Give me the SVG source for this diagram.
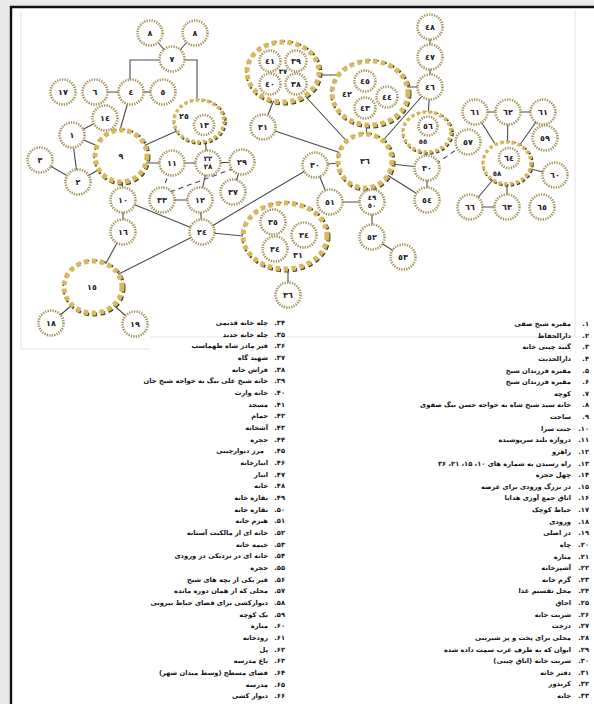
<svg xmlns="http://www.w3.org/2000/svg" width="594" height="704" viewBox="0 0 594 704">
<style>
.ln{stroke:#4a4a4a;stroke-width:1.1;fill:none}
.dash{stroke-dasharray:5 4}
.sm{fill:#fff;stroke:#a2945a;stroke-width:2.6;stroke-dasharray:1.3 1.2}
.bk{fill:none;stroke:#4d3f18;stroke-width:5;stroke-dasharray:4.5 3.5}
.bg{fill:#fff;stroke:#d6b95e;stroke-width:5;stroke-dasharray:4.5 3.5}
.mk{fill:none;stroke:#4d3f18;stroke-width:3.6;stroke-dasharray:3.2 2.6}
.mg{fill:#fff;stroke:#d2b75c;stroke-width:3.6;stroke-dasharray:3.2 2.6}
.lb{font-family:"DejaVu Sans",sans-serif;font-size:8px;font-weight:bold;fill:#222;text-anchor:middle;dominant-baseline:central}
.lb2{font-family:"DejaVu Sans",sans-serif;font-size:7px;font-weight:bold;fill:#222;text-anchor:middle;dominant-baseline:central}
.li{font-family:"DejaVu Sans",sans-serif;font-size:6.7px;font-weight:bold;fill:#111;text-anchor:end}
.faint{stroke:#e4e4e4;stroke-width:1;fill:none}
</style>
<rect x="0" y="0" width="594" height="704" fill="#e9e9e9"/>
<rect x="11" y="7" width="583" height="697" fill="#fff"/>
<path d="M11 704 V7 H594" stroke="#111" stroke-width="2.4" fill="none"/>
<path class="faint" d="M21 10 V349 H150 M150 337 H592 M575 10 V337"/>

<g id="connectors">
<polyline class="ln" points="130,82 130,60 197,60 197,100"/>
<line class="ln" x1="150" y1="33" x2="172" y2="59"/>
<line class="ln" x1="195" y1="33" x2="172" y2="59"/>
<line class="ln" x1="95" y1="92" x2="131" y2="92"/>
<line class="ln" x1="131" y1="92" x2="163" y2="92"/>
<line class="ln" x1="131" y1="92" x2="117" y2="140"/>
<line class="ln" x1="121" y1="156" x2="199" y2="121"/>
<line class="ln" x1="105" y1="118" x2="72" y2="135"/>
<line class="ln" x1="72" y1="135" x2="121" y2="156"/>
<line class="ln" x1="72" y1="135" x2="78" y2="182"/>
<line class="ln" x1="40" y1="160" x2="78" y2="182"/>
<line class="ln" x1="78" y1="182" x2="121" y2="156"/>
<line class="ln" x1="121" y1="163" x2="208" y2="163"/>
<line class="ln" x1="208" y1="163" x2="242" y2="162"/>
<line class="ln" x1="204" y1="121" x2="207" y2="163"/>
<line class="ln" x1="242" y1="162" x2="233" y2="192"/>
<line class="ln" x1="208" y1="163" x2="200" y2="200"/>
<line class="ln" x1="162" y1="200" x2="200" y2="200"/>
<line class="ln" x1="200" y1="200" x2="202" y2="232"/>
<line class="ln" x1="121" y1="156" x2="123" y2="200"/>
<line class="ln" x1="123" y1="200" x2="123" y2="232"/>
<line class="ln" x1="123" y1="200" x2="202" y2="232"/>
<line class="ln" x1="123" y1="232" x2="93" y2="287"/>
<line class="ln" x1="202" y1="232" x2="93" y2="287"/>
<line class="ln" x1="202" y1="232" x2="315" y2="165"/>
<line class="ln" x1="202" y1="232" x2="285" y2="240"/>
<line class="ln" x1="288" y1="260" x2="288" y2="295"/>
<line class="ln" x1="93" y1="287" x2="51" y2="323"/>
<line class="ln" x1="93" y1="287" x2="135" y2="324"/>
<line class="ln" x1="315" y1="165" x2="365" y2="161"/>
<line class="ln" x1="315" y1="165" x2="330" y2="202"/>
<line class="ln" x1="330" y1="202" x2="372" y2="202"/>
<line class="ln" x1="372" y1="202" x2="372" y2="237"/>
<line class="ln" x1="372" y1="237" x2="403" y2="257"/>
<line class="ln" x1="283" y1="72" x2="365" y2="161"/>
<line class="ln" x1="263" y1="127" x2="365" y2="161"/>
<line class="ln" x1="278" y1="90" x2="263" y2="127"/>
<line class="ln" x1="283" y1="75" x2="370" y2="75"/>
<line class="ln" x1="367" y1="100" x2="366" y2="161"/>
<line class="ln" x1="390" y1="87" x2="430" y2="87"/>
<line class="ln" x1="430" y1="87" x2="365" y2="161"/>
<line class="ln" x1="430" y1="87" x2="430" y2="27"/>
<line class="ln" x1="430" y1="87" x2="427" y2="132"/>
<line class="ln" x1="424" y1="132" x2="427" y2="168"/>
<line class="ln" x1="365" y1="161" x2="427" y2="168"/>
<line class="ln" x1="365" y1="161" x2="427" y2="200"/>
<line class="ln" x1="427" y1="168" x2="427" y2="200"/>
<line class="ln" x1="475" y1="112" x2="543" y2="112"/>
<line class="ln" x1="475" y1="112" x2="507" y2="163"/>
<line class="ln" x1="508" y1="112" x2="507" y2="163"/>
<line class="ln" x1="543" y1="112" x2="507" y2="163"/>
<line class="ln" x1="507" y1="163" x2="555" y2="175"/>
<line class="ln" x1="507" y1="163" x2="470" y2="207"/>
<line class="ln" x1="470" y1="207" x2="507" y2="207"/>
<line class="ln" x1="507" y1="163" x2="507" y2="207"/>
<line class="ln dash" x1="170" y1="170" x2="162" y2="192"/>
<line class="ln dash" x1="170" y1="192" x2="235" y2="168"/>
<line class="ln dash" x1="436" y1="164" x2="460" y2="147"/>
</g>

<g id="n9"><circle class="bk" cx="122" cy="157" r="26"/><circle class="bg" cx="121" cy="156" r="26"/><text class="lb" x="121" y="156">٩</text></g>
<g id="n36"><circle class="bk" cx="366" cy="162" r="27"/><circle class="bg" cx="365" cy="161" r="27"/><text class="lb" x="365" y="161">٣٦</text></g>
<g id="n15"><ellipse class="bk" cx="94" cy="288" rx="29" ry="26"/><ellipse class="bg" cx="93" cy="287" rx="29" ry="26"/><text class="lb" x="92" y="287">١٥</text></g>
<g id="g37"><ellipse class="bk" cx="284" cy="73" rx="36" ry="30"/><ellipse class="bg" cx="283" cy="72" rx="36" ry="30"/>
<circle class="sm" cx="270" cy="61" r="10.5"/><text class="lb" x="270" y="61">٤١</text>
<circle class="sm" cx="296" cy="61" r="10.5"/><text class="lb" x="296" y="61">٣٩</text>
<circle class="sm" cx="270" cy="84" r="10.5"/><text class="lb" x="270" y="84">٤٠</text>
<circle class="sm" cx="296" cy="84" r="10.5"/><text class="lb" x="296" y="84">٣٨</text>
<text class="lb2" x="283" y="72">٣٧</text></g>
<g id="g42"><ellipse class="bk" cx="371" cy="94" rx="38" ry="32"/><ellipse class="bg" cx="370" cy="93" rx="38" ry="32"/>
<circle class="sm" cx="365" cy="81" r="10.5"/><text class="lb" x="365" y="81">٤٥</text>
<circle class="sm" cx="387" cy="97" r="10.5"/><text class="lb" x="387" y="97">٤٤</text>
<circle class="sm" cx="365" cy="108" r="10.5"/><text class="lb" x="365" y="108">٤٣</text>
<text class="lb" x="347" y="94">٤٢</text></g>
<g id="g31"><ellipse class="bk" cx="286" cy="237" rx="42" ry="33"/><ellipse class="bg" cx="285" cy="236" rx="42" ry="33"/>
<circle class="sm" cx="273" cy="222" r="12.5"/><text class="lb" x="273" y="222">٣٥</text>
<circle class="sm" cx="304" cy="235" r="12.5"/><text class="lb" x="304" y="235">٣٤</text>
<circle class="sm" cx="275" cy="249" r="12.5"/><text class="lb" x="275" y="249">٣٤</text>
<text class="lb" x="298" y="255">٣١</text></g>
<g id="g25"><ellipse class="mk" cx="200" cy="122" rx="25" ry="21"/><ellipse class="mg" cx="199" cy="121" rx="25" ry="21"/>
<circle class="sm" cx="204" cy="125" r="10"/><text class="lb" x="204" y="125">١٣</text>
<text class="lb" x="184" y="116">٢٥</text></g>
<g id="g55"><ellipse class="mk" cx="428" cy="133" rx="24" ry="20"/><ellipse class="mg" cx="427" cy="132" rx="24" ry="20"/>
<circle class="sm" cx="428" cy="126" r="9.5"/><text class="lb" x="428" y="126">٥٦</text>
<text class="lb2" x="423" y="142">٥٥</text></g>
<g id="g58"><ellipse class="mk" cx="508" cy="164" rx="24" ry="21"/><ellipse class="mg" cx="507" cy="163" rx="24" ry="21"/>
<circle class="sm" cx="509" cy="158" r="10"/><text class="lb" x="509" y="158">٦٤</text>
<text class="lb2" x="497" y="174">٥٨</text></g>

<g id="n8a"><circle class="sm" cx="150" cy="33" r="12.5"/><text class="lb" x="150" y="33">٨</text></g>
<g id="n8b"><circle class="sm" cx="195" cy="33" r="12.5"/><text class="lb" x="195" y="33">٨</text></g>
<g id="n7"><circle class="sm" cx="172" cy="59" r="12.5"/><text class="lb" x="172" y="59">٧</text></g>
<g id="n17"><circle class="sm" cx="63" cy="92" r="12.5"/><text class="lb" x="63" y="92">١٧</text></g>
<g id="n6"><circle class="sm" cx="95" cy="92" r="12.5"/><text class="lb" x="95" y="92">٦</text></g>
<g id="n4"><circle class="sm" cx="131" cy="92" r="12.5"/><text class="lb" x="131" y="92">٤</text></g>
<g id="n5"><circle class="sm" cx="163" cy="92" r="12.5"/><text class="lb" x="163" y="92">٥</text></g>
<g id="n14"><circle class="sm" cx="105" cy="118" r="12.5"/><text class="lb" x="105" y="118">١٤</text></g>
<g id="n1"><circle class="sm" cx="72" cy="135" r="12.5"/><text class="lb" x="72" y="135">١</text></g>
<g id="n3"><circle class="sm" cx="40" cy="160" r="12.5"/><text class="lb" x="40" y="160">٣</text></g>
<g id="n2"><circle class="sm" cx="78" cy="182" r="12.5"/><text class="lb" x="78" y="182">٢</text></g>
<g id="n11"><circle class="sm" cx="172" cy="163" r="12.5"/><text class="lb" x="172" y="163">١١</text></g>
<g id="n22"><circle class="sm" cx="208" cy="163" r="12.5"/><text class="lb2" x="208" y="159">٢٢</text><text class="lb2" x="208" y="167">٢٨</text></g>
<g id="n29"><circle class="sm" cx="242" cy="162" r="12.5"/><text class="lb" x="242" y="162">٢٩</text></g>
<g id="n37"><circle class="sm" cx="233" cy="192" r="12.5"/><text class="lb" x="233" y="192">٣٧</text></g>
<g id="n12"><circle class="sm" cx="200" cy="200" r="12.5"/><text class="lb" x="200" y="200">١٢</text></g>
<g id="n33"><circle class="sm" cx="162" cy="200" r="12.5"/><text class="lb" x="162" y="200">٣٣</text></g>
<g id="n10"><circle class="sm" cx="123" cy="200" r="12.5"/><text class="lb" x="123" y="200">١٠</text></g>
<g id="n16"><circle class="sm" cx="123" cy="232" r="12.5"/><text class="lb" x="123" y="232">١٦</text></g>
<g id="n24"><circle class="sm" cx="202" cy="232" r="12.5"/><text class="lb" x="202" y="232">٢٤</text></g>
<g id="n18"><circle class="sm" cx="51" cy="323" r="12.5"/><text class="lb" x="51" y="323">١٨</text></g>
<g id="n19"><circle class="sm" cx="135" cy="324" r="12.5"/><text class="lb" x="135" y="324">١٩</text></g>
<g id="n31"><circle class="sm" cx="263" cy="127" r="12.5"/><text class="lb" x="263" y="127">٣١</text></g>
<g id="n30a"><circle class="sm" cx="315" cy="165" r="12.5"/><text class="lb" x="315" y="165">٣٠</text></g>
<g id="n51"><circle class="sm" cx="330" cy="202" r="12.5"/><text class="lb" x="330" y="202">٥١</text></g>
<g id="n49"><circle class="sm" cx="372" cy="202" r="12.5"/><text class="lb2" x="372" y="198">٤٩</text><text class="lb2" x="372" y="206">٥٠</text></g>
<g id="n52"><circle class="sm" cx="372" cy="237" r="12.5"/><text class="lb" x="372" y="237">٥٢</text></g>
<g id="n53"><circle class="sm" cx="403" cy="257" r="12.5"/><text class="lb" x="403" y="257">٥٣</text></g>
<g id="n36s"><circle class="sm" cx="288" cy="295" r="12.5"/><text class="lb" x="288" y="295">٣٦</text></g>
<g id="n30b"><circle class="sm" cx="427" cy="168" r="12.5"/><text class="lb" x="427" y="168">٣٠</text></g>
<g id="n54"><circle class="sm" cx="427" cy="200" r="12.5"/><text class="lb" x="427" y="200">٥٤</text></g>
<g id="n57"><circle class="sm" cx="468" cy="142" r="12.5"/><text class="lb" x="468" y="142">٥٧</text></g>
<g id="n46"><circle class="sm" cx="430" cy="87" r="12.5"/><text class="lb" x="430" y="87">٤٦</text></g>
<g id="n47"><circle class="sm" cx="430" cy="57" r="12.5"/><text class="lb" x="430" y="57">٤٧</text></g>
<g id="n48"><circle class="sm" cx="430" cy="27" r="12.5"/><text class="lb" x="430" y="27">٤٨</text></g>
<g id="n61a"><circle class="sm" cx="475" cy="112" r="12.5"/><text class="lb" x="475" y="112">٦١</text></g>
<g id="n62"><circle class="sm" cx="508" cy="112" r="12.5"/><text class="lb" x="508" y="112">٦٢</text></g>
<g id="n61b"><circle class="sm" cx="543" cy="112" r="12.5"/><text class="lb" x="543" y="112">٦١</text></g>
<g id="n59"><circle class="sm" cx="545" cy="138" r="12.5"/><text class="lb" x="545" y="138">٥٩</text></g>
<g id="n60"><circle class="sm" cx="555" cy="175" r="12.5"/><text class="lb" x="555" y="175">٦٠</text></g>
<g id="n66"><circle class="sm" cx="470" cy="207" r="12.5"/><text class="lb" x="470" y="207">٦٦</text></g>
<g id="n63"><circle class="sm" cx="507" cy="207" r="12.5"/><text class="lb" x="507" y="207">٦٣</text></g>
<g id="n65"><circle class="sm" cx="542" cy="207" r="12.5"/><text class="lb" x="542" y="207">٦٥</text></g>

<g id="legend-right">
<text class="li" x="589" y="326">&#x202B;۱.&#x202C;</text><text class="li" x="571" y="326">&#x202B;مقبره شیخ صفی&#x202C;</text>
<text class="li" x="589" y="337.6">&#x202B;۲.&#x202C;</text><text class="li" x="571" y="337.6">&#x202B;دارالحفاظ&#x202C;</text>
<text class="li" x="589" y="349.3">&#x202B;۳.&#x202C;</text><text class="li" x="571" y="349.3">&#x202B;گنبد چینی خانه&#x202C;</text>
<text class="li" x="589" y="360.9">&#x202B;۴.&#x202C;</text><text class="li" x="571" y="360.9">&#x202B;دارالحدیث&#x202C;</text>
<text class="li" x="589" y="372.5">&#x202B;۵.&#x202C;</text><text class="li" x="571" y="372.5">&#x202B;مقبره فرزندان شیخ&#x202C;</text>
<text class="li" x="589" y="384.1">&#x202B;۶.&#x202C;</text><text class="li" x="571" y="384.1">&#x202B;مقبره فرزندان شیخ&#x202C;</text>
<text class="li" x="589" y="395.8">&#x202B;۷.&#x202C;</text><text class="li" x="571" y="395.8">&#x202B;کوچه&#x202C;</text>
<text class="li" x="589" y="407.4">&#x202B;۸.&#x202C;</text><text class="li" x="571" y="407.4">&#x202B;خانه سید شیخ شاه به خواجه حسن بیگ صفوی&#x202C;</text>
<text class="li" x="589" y="419">&#x202B;۹.&#x202C;</text><text class="li" x="571" y="419">&#x202B;ساحت&#x202C;</text>
<text class="li" x="589" y="430.6">&#x202B;۱۰.&#x202C;</text><text class="li" x="571" y="430.6">&#x202B;جنت سرا&#x202C;</text>
<text class="li" x="589" y="442.3">&#x202B;۱۱.&#x202C;</text><text class="li" x="571" y="442.3">&#x202B;دروازه بلند سرپوشیده&#x202C;</text>
<text class="li" x="589" y="453.9">&#x202B;۱۲.&#x202C;</text><text class="li" x="571" y="453.9">&#x202B;راهرو&#x202C;</text>
<text class="li" x="589" y="465.5">&#x202B;۱۳.&#x202C;</text><text class="li" x="571" y="465.5">&#x202B;راه رسیدن به شماره های ۱۰، ۱۵، ۲۱، ۳۶&#x202C;</text>
<text class="li" x="589" y="477.1">&#x202B;۱۴.&#x202C;</text><text class="li" x="571" y="477.1">&#x202B;چهل حجره&#x202C;</text>
<text class="li" x="589" y="488.8">&#x202B;۱۵.&#x202C;</text><text class="li" x="571" y="488.8">&#x202B;در بزرگ ورودی برای عرضه&#x202C;</text>
<text class="li" x="589" y="500.4">&#x202B;۱۶.&#x202C;</text><text class="li" x="571" y="500.4">&#x202B;اتاق جمع آوری هدایا&#x202C;</text>
<text class="li" x="589" y="512">&#x202B;۱۷.&#x202C;</text><text class="li" x="571" y="512">&#x202B;حیاط کوچک&#x202C;</text>
<text class="li" x="589" y="523.6">&#x202B;۱۸.&#x202C;</text><text class="li" x="571" y="523.6">&#x202B;ورودی&#x202C;</text>
<text class="li" x="589" y="535.3">&#x202B;۱۹.&#x202C;</text><text class="li" x="571" y="535.3">&#x202B;در اصلی&#x202C;</text>
<text class="li" x="589" y="546.9">&#x202B;۲۰.&#x202C;</text><text class="li" x="571" y="546.9">&#x202B;چاه&#x202C;</text>
<text class="li" x="589" y="558.5">&#x202B;۲۱.&#x202C;</text><text class="li" x="571" y="558.5">&#x202B;مناره&#x202C;</text>
<text class="li" x="589" y="570.1">&#x202B;۲۲.&#x202C;</text><text class="li" x="571" y="570.1">&#x202B;آشپزخانه&#x202C;</text>
<text class="li" x="589" y="581.8">&#x202B;۲۳.&#x202C;</text><text class="li" x="571" y="581.8">&#x202B;گرم خانه&#x202C;</text>
<text class="li" x="589" y="593.4">&#x202B;۲۴.&#x202C;</text><text class="li" x="571" y="593.4">&#x202B;محل تقسیم غذا&#x202C;</text>
<text class="li" x="589" y="605">&#x202B;۲۵.&#x202C;</text><text class="li" x="571" y="605">&#x202B;اجاق&#x202C;</text>
<text class="li" x="589" y="616.6">&#x202B;۲۶.&#x202C;</text><text class="li" x="571" y="616.6">&#x202B;شربت خانه&#x202C;</text>
<text class="li" x="589" y="628.3">&#x202B;۲۷.&#x202C;</text><text class="li" x="571" y="628.3">&#x202B;درخت&#x202C;</text>
<text class="li" x="589" y="639.9">&#x202B;۲۸.&#x202C;</text><text class="li" x="571" y="639.9">&#x202B;محلی برای پخت و پز شیرینی&#x202C;</text>
<text class="li" x="589" y="651.5">&#x202B;۲۹.&#x202C;</text><text class="li" x="571" y="651.5">&#x202B;ایوان که به طرف غرب سمت داده شده&#x202C;</text>
<text class="li" x="589" y="663.1">&#x202B;۳۰.&#x202C;</text><text class="li" x="571" y="663.1">&#x202B;شربت خانه (اتاق چینی)&#x202C;</text>
<text class="li" x="589" y="674.8">&#x202B;۳۱.&#x202C;</text><text class="li" x="571" y="674.8">&#x202B;دفتر خانه&#x202C;</text>
<text class="li" x="589" y="686.4">&#x202B;۳۲.&#x202C;</text><text class="li" x="571" y="686.4">&#x202B;کریدور&#x202C;</text>
<text class="li" x="589" y="698">&#x202B;۳۳.&#x202C;</text><text class="li" x="571" y="698">&#x202B;خانه&#x202C;</text>
</g>
<g id="legend-left">
<text class="li" x="285" y="325">&#x202B;۳۴.&#x202C;</text><text class="li" x="268" y="325">&#x202B;چله خانه قدیمی&#x202C;</text>
<text class="li" x="285" y="336.7">&#x202B;۳۵.&#x202C;</text><text class="li" x="268" y="336.7">&#x202B;چله خانه جدید&#x202C;</text>
<text class="li" x="285" y="348.3">&#x202B;۳۶.&#x202C;</text><text class="li" x="268" y="348.3">&#x202B;قبر مادر شاه طهماسب&#x202C;</text>
<text class="li" x="285" y="360">&#x202B;۳۷.&#x202C;</text><text class="li" x="268" y="360">&#x202B;شهید گاه&#x202C;</text>
<text class="li" x="285" y="371.6">&#x202B;۳۸.&#x202C;</text><text class="li" x="268" y="371.6">&#x202B;فراش خانه&#x202C;</text>
<text class="li" x="285" y="383.3">&#x202B;۳۹.&#x202C;</text><text class="li" x="268" y="383.3">&#x202B;خانه شیخ علی بیگ به خواجه شیخ جان&#x202C;</text>
<text class="li" x="285" y="395">&#x202B;۴۰.&#x202C;</text><text class="li" x="268" y="395">&#x202B;خانه وارث&#x202C;</text>
<text class="li" x="285" y="406.6">&#x202B;۴۱.&#x202C;</text><text class="li" x="268" y="406.6">&#x202B;مسجد&#x202C;</text>
<text class="li" x="285" y="418.3">&#x202B;۴۲.&#x202C;</text><text class="li" x="268" y="418.3">&#x202B;حمام&#x202C;</text>
<text class="li" x="285" y="429.9">&#x202B;۴۳.&#x202C;</text><text class="li" x="268" y="429.9">&#x202B;آشخانه&#x202C;</text>
<text class="li" x="285" y="441.6">&#x202B;۴۴.&#x202C;</text><text class="li" x="268" y="441.6">&#x202B;حجره&#x202C;</text>
<text class="li" x="285" y="453.3">&#x202B;۴۵.&#x202C;</text><text class="li" x="264" y="453.3">&#x202B;مرز دیوارچینی&#x202C;</text>
<text class="li" x="285" y="464.9">&#x202B;۴۶.&#x202C;</text><text class="li" x="268" y="464.9">&#x202B;انبارخانه&#x202C;</text>
<text class="li" x="285" y="476.6">&#x202B;۴۷.&#x202C;</text><text class="li" x="268" y="476.6">&#x202B;انبار&#x202C;</text>
<text class="li" x="285" y="488.2">&#x202B;۴۸.&#x202C;</text><text class="li" x="268" y="488.2">&#x202B;خانه&#x202C;</text>
<text class="li" x="285" y="499.9">&#x202B;۴۹.&#x202C;</text><text class="li" x="268" y="499.9">&#x202B;نقاره خانه&#x202C;</text>
<text class="li" x="285" y="511.6">&#x202B;۵۰.&#x202C;</text><text class="li" x="268" y="511.6">&#x202B;نقاره خانه&#x202C;</text>
<text class="li" x="285" y="523.2">&#x202B;۵۱.&#x202C;</text><text class="li" x="268" y="523.2">&#x202B;هیزم خانه&#x202C;</text>
<text class="li" x="285" y="534.9">&#x202B;۵۲.&#x202C;</text><text class="li" x="268" y="534.9">&#x202B;خانه ای از مالکیت آستانه&#x202C;</text>
<text class="li" x="285" y="546.5">&#x202B;۵۳.&#x202C;</text><text class="li" x="268" y="546.5">&#x202B;خیمه خانه&#x202C;</text>
<text class="li" x="285" y="558.2">&#x202B;۵۴.&#x202C;</text><text class="li" x="268" y="558.2">&#x202B;خانه ای در نزدیکی در ورودی&#x202C;</text>
<text class="li" x="285" y="569.9">&#x202B;۵۵.&#x202C;</text><text class="li" x="268" y="569.9">&#x202B;حجره&#x202C;</text>
<text class="li" x="285" y="581.5">&#x202B;۵۶.&#x202C;</text><text class="li" x="268" y="581.5">&#x202B;قبر یکی از بچه های شیخ&#x202C;</text>
<text class="li" x="285" y="593.2">&#x202B;۵۷.&#x202C;</text><text class="li" x="268" y="593.2">&#x202B;محلی که از همان دوره مانده&#x202C;</text>
<text class="li" x="285" y="604.8">&#x202B;۵۸.&#x202C;</text><text class="li" x="268" y="604.8">&#x202B;دیوارکشی برای فضای حیاط بیرونی&#x202C;</text>
<text class="li" x="285" y="616.5">&#x202B;۵۹.&#x202C;</text><text class="li" x="268" y="616.5">&#x202B;یک کوچه&#x202C;</text>
<text class="li" x="285" y="628.2">&#x202B;۶۰.&#x202C;</text><text class="li" x="268" y="628.2">&#x202B;مناره&#x202C;</text>
<text class="li" x="285" y="639.8">&#x202B;۶۱.&#x202C;</text><text class="li" x="268" y="639.8">&#x202B;رودخانه&#x202C;</text>
<text class="li" x="285" y="651.5">&#x202B;۶۲.&#x202C;</text><text class="li" x="268" y="651.5">&#x202B;پل&#x202C;</text>
<text class="li" x="285" y="663.1">&#x202B;۶۳.&#x202C;</text><text class="li" x="268" y="663.1">&#x202B;باغ مدرسه&#x202C;</text>
<text class="li" x="285" y="674.8">&#x202B;۶۴.&#x202C;</text><text class="li" x="268" y="674.8">&#x202B;فضای مسطح (وسط میدان شهر)&#x202C;</text>
<text class="li" x="285" y="686.5">&#x202B;۶۵.&#x202C;</text><text class="li" x="268" y="686.5">&#x202B;مدرسه&#x202C;</text>
<text class="li" x="285" y="698.1">&#x202B;۶۶.&#x202C;</text><text class="li" x="268" y="698.1">&#x202B;دیوار کشی&#x202C;</text>
</g>
</svg>
